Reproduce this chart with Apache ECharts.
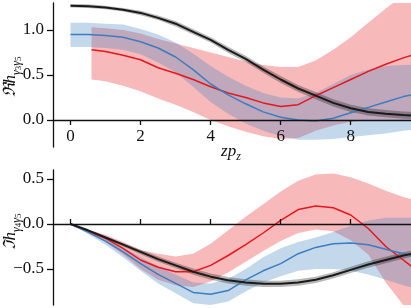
<!DOCTYPE html>
<html><head><meta charset="utf-8">
<script src="https://cdn.jsdelivr.net/npm/echarts@6/dist/echarts.min.js"></script>
<style>html,body{margin:0;padding:0;background:#fff}#c{width:411px;height:308px}</style>
</head><body><div id="c"></div>
<script>
// ---------- data ----------
var xs = [0,0.5,1,1.5,2,2.5,3,3.5,4,4.5,5,5.5,6,6.5,7,7.5,8,8.5,9,9.5,10];
var xTicks = [0,2,4,6,8];
var reTicks = [0,0.5,1.0];
var imTicks = [-0.5,0,0.5];

// top panel (real part)
var reBlack    = [1.27,1.265,1.25,1.225,1.19,1.135,1.07,0.98,0.89,0.78,0.68,0.56,0.45,0.35,0.27,0.19,0.13,0.09,0.07,0.055,0.045];
var reBlackErr = [0.02,0.02,0.02,0.02,0.025,0.025,0.03,0.03,0.03,0.035,0.035,0.035,0.04,0.04,0.04,0.04,0.04,0.04,0.04,0.04,0.04];
var reBlue     = [0.95,0.95,0.94,0.92,0.87,0.80,0.70,0.56,0.40,0.28,0.18,0.09,0.03,0.0,-0.01,0.02,0.08,0.14,0.20,0.26,0.30];
var reBlueLo   = [0.81,0.81,0.80,0.78,0.73,0.64,0.53,0.37,0.20,0.07,-0.04,-0.12,-0.18,-0.22,-0.22,-0.21,-0.19,-0.17,-0.15,-0.12,-0.10];
var reBlueHi   = [1.08,1.08,1.07,1.06,1.01,0.95,0.86,0.74,0.60,0.48,0.38,0.30,0.25,0.24,0.30,0.40,0.50,0.56,0.60,0.61,0.62];
var xsRed      = [0.6,1,1.5,2,2.5,3,3.5,4,4.5,5,5.5,6,6.5,7,7.5,8,8.5,9,9.5,10];
var reRed      = [0.78,0.76,0.72,0.67,0.58,0.52,0.45,0.37,0.30,0.25,0.19,0.15,0.17,0.27,0.36,0.45,0.54,0.62,0.69,0.75];
var reRedLo    = [0.45,0.43,0.38,0.32,0.24,0.17,0.09,0.0,-0.07,-0.13,-0.18,-0.21,-0.20,-0.12,-0.06,-0.02,0.0,0.0,0.0,0.0];
var reRedHi    = [1.03,1.02,1.0,0.96,0.90,0.85,0.80,0.75,0.70,0.65,0.61,0.59,0.59,0.66,0.78,0.92,1.08,1.24,1.38,1.48];

// bottom panel (imaginary part)
var imBlack    = [0,-0.07,-0.15,-0.23,-0.31,-0.39,-0.46,-0.53,-0.585,-0.625,-0.65,-0.665,-0.665,-0.65,-0.62,-0.57,-0.51,-0.45,-0.40,-0.35,-0.31];
var imBlackErr = [0,0.01,0.015,0.02,0.025,0.03,0.03,0.035,0.035,0.035,0.035,0.035,0.035,0.035,0.035,0.035,0.035,0.035,0.035,0.035,0.035];
var imBlue     = [0,-0.09,-0.19,-0.31,-0.44,-0.56,-0.66,-0.76,-0.78,-0.74,-0.62,-0.52,-0.44,-0.33,-0.26,-0.22,-0.21,-0.23,-0.28,-0.33,-0.37];
var imBlueLo   = [0,-0.11,-0.23,-0.37,-0.52,-0.66,-0.77,-0.88,-0.90,-0.86,-0.75,-0.65,-0.58,-0.52,-0.50,-0.50,-0.52,-0.56,-0.62,-0.68,-0.74];
var imBlueHi   = [0,-0.07,-0.16,-0.26,-0.37,-0.47,-0.56,-0.65,-0.66,-0.61,-0.50,-0.37,-0.27,-0.20,-0.15,-0.09,-0.02,0.04,0.07,0.07,0.07];
var imRed      = [0,-0.08,-0.16,-0.27,-0.40,-0.48,-0.53,-0.53,-0.46,-0.35,-0.23,-0.10,0.04,0.16,0.20,0.18,0.10,-0.05,-0.25,-0.40,-0.55];
var imRedLo    = [0,-0.10,-0.20,-0.34,-0.50,-0.62,-0.68,-0.70,-0.64,-0.54,-0.42,-0.30,-0.19,-0.10,-0.06,-0.08,-0.18,-0.34,-0.65,-0.90,-1.1];
var imRedHi    = [0,-0.06,-0.12,-0.20,-0.29,-0.33,-0.36,-0.33,-0.22,-0.07,0.08,0.22,0.36,0.48,0.55,0.56,0.52,0.45,0.37,0.30,0.25];

// ---------- helpers ----------
var RED = '#e8161b', BLUE = '#3b7dbf', BLACK = '#1a1a1a';
var RED_BAND = 'rgba(232,22,27,0.30)', BLUE_BAND = 'rgba(59,125,191,0.30)', GREY_BAND = 'rgba(0,0,0,0.28)';
function zip(x, y) { return x.map(function (v, i) { return [v, y[i]]; }); }
function band(x, lo, hi, color, g) {
  return {
    type: 'custom', xAxisIndex: g, yAxisIndex: g, clip: true, silent: true, z: 1,
    data: x.map(function (v, i) { return [v, lo[i], hi[i]]; }),
    encode: { x: 0, y: [1, 2] },
    renderItem: function (params, api) {
      if (params.dataIndex !== 0) return;
      var pts = [], i;
      for (i = 0; i < x.length; i++) pts.push(api.coord([x[i], hi[i]]));
      for (i = x.length - 1; i >= 0; i--) pts.push(api.coord([x[i], lo[i]]));
      return { type: 'polygon', shape: { points: pts }, style: { fill: color } };
    }
  };
}
function errBand(x, c, e, color, g) {
  return band(x, c.map(function (v, i) { return v - e[i]; }), c.map(function (v, i) { return v + e[i]; }), color, g);
}
function line(x, y, color, g, w) {
  return { type: 'line', xAxisIndex: g, yAxisIndex: g, data: zip(x, y), showSymbol: false, symbol: 'none',
    lineStyle: { color: color, width: w }, clip: true, z: 3, animation: false };
}
var FONT = '"Liberation Serif","DejaVu Serif",serif';
function fmt(v) { return (v < 0 ? '\u2212' : '') + Math.abs(v).toFixed(1); }

var chart = echarts.init(document.getElementById('c'), null, { renderer: 'canvas' });
var LS = { color: '#111', width: 1.3 };
chart.setOption({
  animation: false,
  grid: [
    { left: 53, width: 358, top: 3, height: 144 },
    { left: 53, width: 358, top: 170, height: 135 }
  ],
  xAxis: [
    { gridIndex: 0, type: 'value', min: -0.5, max: 9.72, z: 10, position: 'bottom', offset: -27,
      axisLine: { onZero: false, lineStyle: LS },
      axisTick: { show: true, length: 5, inside: false, customValues: xTicks, lineStyle: LS },
      axisLabel: { show: true, customValues: xTicks, margin: 8, fontFamily: FONT, fontSize: 17, color: '#111' },
      splitLine: { show: false } },
    { gridIndex: 1, type: 'value', min: -0.5, max: 9.72, z: 10, position: 'bottom', offset: -81,
      axisLine: { onZero: false, lineStyle: LS },
      axisTick: { show: true, length: 5, inside: true, customValues: xTicks, lineStyle: LS },
      axisLabel: { show: false },
      splitLine: { show: false } }
  ],
  yAxis: [
    { gridIndex: 0, type: 'value', min: -0.3, max: 1.3, z: 10,
      axisLine: { show: true, onZero: false, lineStyle: LS },
      axisTick: { show: true, length: 6, customValues: reTicks, lineStyle: LS },
      axisLabel: { customValues: reTicks, formatter: fmt, margin: 9, fontFamily: FONT, fontSize: 17, color: '#111' },
      splitLine: { show: false } },
    { gridIndex: 1, type: 'value', min: -0.9, max: 0.6, z: 10,
      axisLine: { show: true, onZero: false, lineStyle: LS },
      axisTick: { show: true, length: 6, customValues: imTicks, lineStyle: LS },
      axisLabel: { customValues: imTicks, formatter: fmt, margin: 9, fontFamily: FONT, fontSize: 17, color: '#111' },
      splitLine: { show: false } }
  ],
  series: [
    band(xsRed, reRedLo, reRedHi, RED_BAND, 0),
    band(xs, reBlueLo, reBlueHi, BLUE_BAND, 0),
    errBand(xs, reBlack, reBlackErr, GREY_BAND, 0),
    line(xsRed, reRed, RED, 0, 1.5),
    line(xs, reBlue, BLUE, 0, 1.5),
    line(xs, reBlack, BLACK, 0, 2),
    band(xs, imRedLo, imRedHi, RED_BAND, 1),
    band(xs, imBlueLo, imBlueHi, BLUE_BAND, 1),
    errBand(xs, imBlack, imBlackErr, GREY_BAND, 1),
    line(xs, imRed, RED, 1, 1.5),
    line(xs, imBlue, BLUE, 1, 1.5),
    line(xs, imBlack, BLACK, 1, 2)
  ],
  graphic: [
    { type: 'text', x: 231, y: 153, z: 100, style: {
        text: '{i|zp}{s|z}', align: 'center', verticalAlign: 'middle',
        rich: { i: { fontFamily: FONT, fontStyle: 'italic', fontSize: 17, fill: '#111', verticalAlign: 'bottom', padding: [0,0,3,0] },
                s: { fontFamily: FONT, fontStyle: 'italic', fontSize: 12, fill: '#111', verticalAlign: 'bottom' } } } },
    { type: 'text', x: 13, y: 77, rotation: Math.PI / 2, z: 100, style: {
        text: '{r|\u211Ch}{s|\u03B3}{ss|3}{s|\u03B3}{ss|5}', align: 'center', verticalAlign: 'middle',
        rich: { r: { fontFamily: FONT, fontStyle: 'italic', fontSize: 17, fill: '#111', verticalAlign: 'bottom', padding: [0,0,4,0] },
                s: { fontFamily: FONT, fontStyle: 'italic', fontSize: 12, fill: '#111', verticalAlign: 'bottom', padding: [0,0,1,0] },
                ss: { fontFamily: FONT, fontSize: 9, fill: '#111', verticalAlign: 'bottom' } } } },
    { type: 'text', x: 13, y: 232, rotation: Math.PI / 2, z: 100, style: {
        text: '{r|\u2111h}{s|\u03B3}{ss|4}{s|\u03B3}{ss|5}', align: 'center', verticalAlign: 'middle',
        rich: { r: { fontFamily: FONT, fontStyle: 'italic', fontSize: 17, fill: '#111', verticalAlign: 'bottom', padding: [0,0,4,0] },
                s: { fontFamily: FONT, fontStyle: 'italic', fontSize: 12, fill: '#111', verticalAlign: 'bottom', padding: [0,0,1,0] },
                ss: { fontFamily: FONT, fontSize: 9, fill: '#111', verticalAlign: 'bottom' } } } }
  ]
});
</script></body></html>
